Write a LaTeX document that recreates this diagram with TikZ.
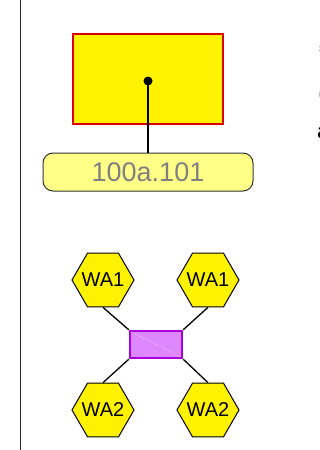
\documentclass[tikz,border=0pt]{standalone}
\usepackage{fontspec}
\setmainfont{Liberation Sans}
\usetikzlibrary{shapes.geometric}
\definecolor{boxred}{HTML}{DD0000}
\definecolor{tagyellow}{HTML}{FFFF88}
\definecolor{tagtext}{HTML}{808080}
\definecolor{swfill}{HTML}{DD88FF}
\definecolor{swline}{HTML}{AA00DD}
\begin{document}
\begin{tikzpicture}[x=1pt,y=-1pt,
    hex/.style={regular polygon,regular polygon sides=6,minimum size=62pt,inner sep=0pt,
      draw=black,line width=1pt,fill=yellow,
      label={[font=\fontsize{20}{20}\selectfont,inner sep=0pt]center:#1}},
    wire/.style={draw=black,line width=1.3pt},
    edge/.style={anchor=base west,inner sep=0pt}]
  \useasboundingbox (0,0) rectangle (320,450);
  \draw[line width=1pt,black!85] (20,0) -- (20,450);
  % room and its tag
  \node[draw=boxred,line width=2pt,fill=yellow,minimum width=150pt,minimum height=90pt,inner sep=0pt] (room) at (148,79) {};
  \node[circle,fill=black,inner sep=0pt,minimum size=9pt] (dot) at (148,81) {};
  \node[draw=black!80,line width=1pt,fill=tagyellow,rounded corners=10pt,minimum width=210pt,minimum height=38pt,
    inner sep=0pt,text=tagtext,font=\fontsize{27}{27}\selectfont] (tag) at (148,172) {100a.101};
  \draw[wire] (dot.center) -- (tag.north);
  % switch with its access points
  \node[draw=swline,line width=2.5pt,fill=swfill,minimum width=52pt,minimum height=27pt,inner sep=0pt] (sw) at (156,344.5) {};
  \draw[white,dotted,line width=0.6pt] ([shift={(2,2)}]sw.north west) -- ([shift={(-2,-2)}]sw.south east);
  \node[hex=WA1] (wa1l) at (103,280) {};
  \node[hex=WA1] (wa1r) at (208,280) {};
  \node[hex=WA2] (wa2l) at (103,410) {};
  \node[hex=WA2] (wa2r) at (208,410) {};
  \draw[wire] (wa1l.south) -- (sw.north west);
  \draw[wire] (wa1r.south) -- (sw.north east);
  \draw[wire] (wa2l.north) -- (sw.south west);
  \draw[wire] (wa2r.north) -- (sw.south east);
  % text cut off at the right edge
  \node[edge,font=\fontsize{14}{14}\selectfont] (cut1) at (319,52) {s};
  \node[edge,text=tagtext,font=\fontsize{14}{14}\selectfont] (cut2) at (318.5,98) {(};
  \node[edge,font=\fontsize{22}{22}\selectfont] (cut3) at (317,138) {a};
\end{tikzpicture}
\end{document}
